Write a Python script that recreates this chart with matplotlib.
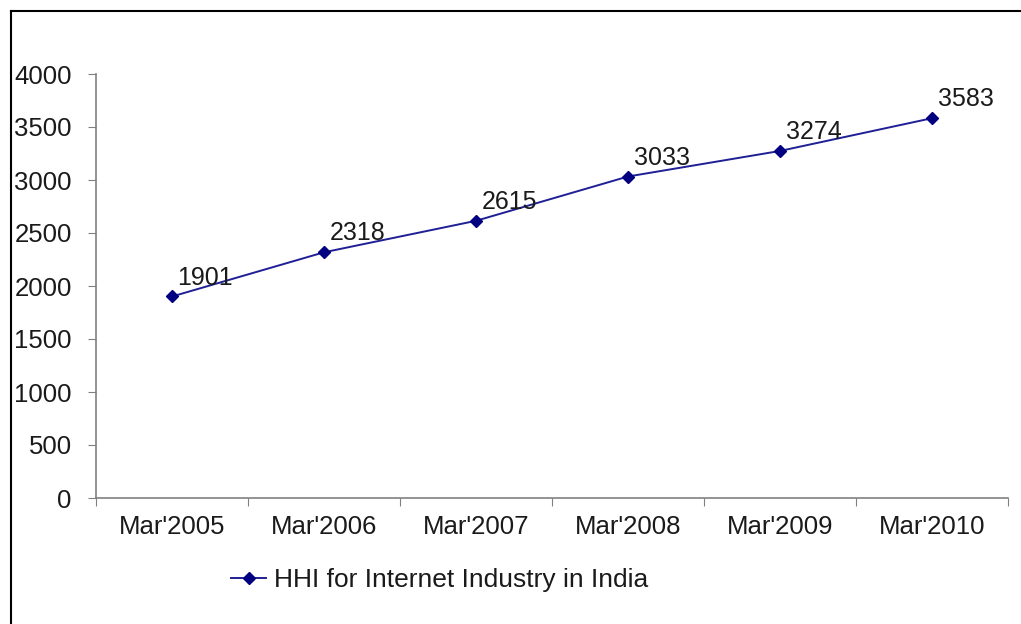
import matplotlib
matplotlib.use("Agg")
import matplotlib.pyplot as plt
from matplotlib.lines import Line2D

plt.rcParams['font.family'] = ['Liberation Sans', 'DejaVu Sans']

# HHI values, March of each year
periods = ["Mar'2005", "Mar'2006", "Mar'2007", "Mar'2008", "Mar'2009", "Mar'2010"]
hhi = [1901, 2318, 2615, 3033, 3274, 3583]
series_name = "HHI for Internet Industry in India"

W, H = 1021, 624
fig = plt.figure(figsize=(W / 100, H / 100), dpi=100)
ax = fig.add_axes([96 / W, 1 - 498 / H, (1008 - 96) / W, (498 - 74) / H])

x = list(range(len(periods)))
line, = ax.plot(x, hhi, color='#1f1f96', linewidth=1.4, marker='D',
                markersize=6, markerfacecolor='#000080', markeredgecolor='#000080',
                label=series_name)

for xi, v in zip(x, hhi):
    ax.annotate(str(v), (xi, v), xytext=(4, 5), textcoords='offset points',
                ha='left', va='bottom', fontsize=18, color='#1a1a1a')

ax.set_xlim(-0.5, len(periods) - 0.5)
ax.set_ylim(0, 4000)
ax.set_yticks(range(0, 4001, 500))

# category ticks sit on the boundaries, labels in the middle
ax.set_xticks([i - 0.5 for i in range(len(periods) + 1)])
ax.set_xticklabels([])
ax.set_xticks(x, minor=True)
ax.set_xticklabels(periods, minor=True)
ax.tick_params(axis='x', which='minor', length=0, pad=12, labelsize=18.5, labelcolor='#1a1a1a')
ax.tick_params(axis='x', which='major', length=6, color='#808080', direction='out')
ax.tick_params(axis='y', length=6, color='#808080', pad=11.5, labelsize=18.5, labelcolor='#1a1a1a')

for s in ('top', 'right'):
    ax.spines[s].set_visible(False)
for s in ('left', 'bottom'):
    ax.spines[s].set_color('#808080')
    ax.spines[s].set_linewidth(1.2)

fig.legend(handles=[line], loc='center left', bbox_to_anchor=(207 / W, 1 - 580 / H),
           frameon=False, fontsize=19, handlelength=1.35, handletextpad=0.3,
           labelcolor='#1a1a1a')

# outer frame (left and top edges)
fig.add_artist(Line2D([11 / W, 11 / W], [0, 1 - 11 / H], color='black', linewidth=1.5))
fig.add_artist(Line2D([11 / W, 1], [1 - 11 / H, 1 - 11 / H], color='black', linewidth=1.5))

fig.savefig('out.png', dpi=100, facecolor='white')
